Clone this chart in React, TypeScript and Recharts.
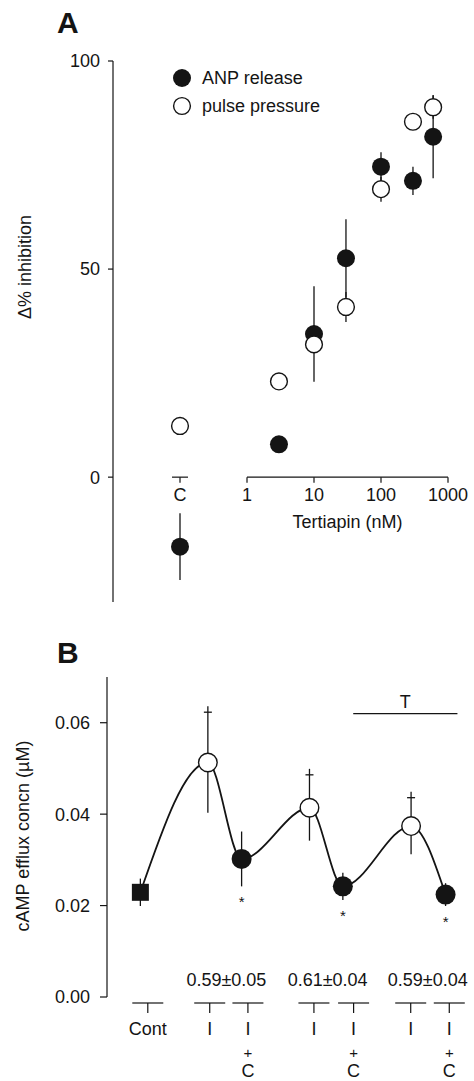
import { ScatterChart, ComposedChart, Scatter, Line, XAxis, YAxis, ErrorBar, ReferenceLine } from 'recharts'

const FONT = '"Liberation Sans", Arial, Helvetica, sans-serif'
const INK = '#141414'

// ---- Panel A: % inhibition vs tertiapin ----
const doseLabels = ['C', '3', '10', '30', '100', '300', '600']
// control "C" is drawn one decade left of 1 nM on the log axis
const doseValues = [0.1, 3, 10, 30, 100, 300, 600]
const anpMean = [-16.7, 7.9, 34.4, 52.6, 74.6, 71.2, 81.8]
const anpSem = [8, 0, 11.5, 9.4, 3.5, 3.4, 10]
const pulseMean = [12.3, 23, 31.9, 40.9, 69.2, 85.4, 88.9]
const pulseSem = [1.6, 0, 0, 3.6, 3, 0, 2.8]
const doseAxisTicks = [1, 10, 100, 1000]
const inhibitionTicks = [0, 50, 100]

// ---- Panel B: cAMP efflux ----
const conditionLabels = ['Cont', 'I', 'I+C', 'I', 'I+C', 'I', 'I+C']
const labelX = [1.2, 2.87, 3.9, 5.68, 6.75, 8.29, 9.33]
const pointX = [1, 2.82, 3.73, 5.56, 6.46, 8.3, 9.23]
const campMean = [0.0229, 0.0513, 0.0302, 0.0414, 0.0242, 0.0374, 0.0224]
const campSem = [0.003, 0.011, 0.006, 0.0072, 0.003, 0.0062, 0.0025]
const markerKind = ['square', 'open', 'filled', 'open', 'filled', 'open', 'filled']
const ratioText = ['0.59±0.05', '0.61±0.04', '0.59±0.04']
const ratioX = [3.32, 6.05, 8.75]
const campTicks = [0, 0.02, 0.04, 0.06]
const tertiapinSpan = [6.74, 9.55]

const anpData = doseValues.map((x, i) => ({ x, y: anpMean[i], err: anpSem[i], label: doseLabels[i] }))
const pulseData = doseValues.map((x, i) => ({ x, y: pulseMean[i], err: pulseSem[i], label: doseLabels[i] }))
const axisTextA = [
  ...doseAxisTicks.map((t) => ({ x: t, y: -4.3, text: String(t) })),
  { x: doseValues[0], y: -4.3, text: doseLabels[0] },
  { x: 31.6, y: -10.7, text: 'Tertiapin (nM)' },
]

const campData = pointX.map((x, i) => ({ x, y: campMean[i], err: campSem[i], kind: markerKind[i] }))
const plusData = campData.filter((d) => d.kind === 'open').map((d) => ({ x: d.x, y: d.y + d.err }))
const starData = campData.filter((d) => d.kind === 'filled').map((d) => ({ x: d.x, y: d.y - d.err }))
const ratioData = ratioX.map((x, i) => ({ x, y: 0.0037, text: ratioText[i] }))

const textStyle = { fontFamily: FONT, fontSize: 18, fill: INK }

function TextMark(p: any) {
  return (
    <text x={p.cx} y={p.cy} textAnchor="middle" dominantBaseline="central" {...textStyle}>
      {p.payload.text}
    </text>
  )
}

const filledDot = (p: any) => <circle cx={p.cx} cy={p.cy} r={9} fill={INK} />
const openDot = (p: any) => <circle cx={p.cx} cy={p.cy} r={8.4} fill="#fff" stroke={INK} strokeWidth={1.4} />

function CampMarker(p: any) {
  const { cx, cy, payload } = p
  if (payload.kind === 'square') return <rect x={cx - 8.5} y={cy - 8.5} width={17} height={17} fill={INK} />
  if (payload.kind === 'open') return <circle cx={cx} cy={cy} r={9.3} fill="#fff" stroke={INK} strokeWidth={1.4} />
  return <circle cx={cx} cy={cy} r={10} fill={INK} />
}

const PlusMark = (p: any) => (
  <g stroke={INK} strokeWidth={1.3}>
    <line x1={p.cx - 4} x2={p.cx + 4} y1={p.cy} y2={p.cy} />
    <line x1={p.cx} x2={p.cx} y1={p.cy} y2={p.cy - 6} />
  </g>
)

const StarMark = (p: any) => (
  <text x={p.cx} y={p.cy + 21} textAnchor="middle" fontFamily={FONT} fontSize={15} fill={INK}>
    *
  </text>
)

// bottom axis of B: a short bar with a drop tick per condition, label stacked below
function ConditionTick(p: any) {
  const { x, y, payload } = p
  const idx = labelX.findIndex((v) => Math.abs(v - payload.value) < 1e-6)
  const parts = (conditionLabels[idx] || '').split('+')
  return (
    <g>
      <line x1={x - 15.5} x2={x + 15.5} y1={y + 6} y2={y + 6} stroke={INK} strokeWidth={1.2} />
      <line x1={x} x2={x} y1={y + 6} y2={y + 16} stroke={INK} strokeWidth={1.2} />
      <text x={x} y={y + 38} textAnchor="middle" {...textStyle}>
        {parts[0]}
      </text>
      {parts.length > 1 && (
        <>
          <text x={x} y={y + 61} textAnchor="middle" {...textStyle} fontSize={15}>
            +
          </text>
          <text x={x} y={y + 80} textAnchor="middle" {...textStyle}>
            {parts[1]}
          </text>
        </>
      )}
    </g>
  )
}

const rotated = (left: number, top: number): React.CSSProperties => ({
  position: 'absolute',
  left,
  top,
  transform: 'translate(-50%, -50%) rotate(-90deg)',
  whiteSpace: 'nowrap',
  fontFamily: FONT,
  fontSize: 18,
  color: INK,
})

const panelLetter = (top: number): React.CSSProperties => ({
  position: 'absolute',
  left: 57,
  top,
  fontFamily: FONT,
  fontWeight: 'bold',
  fontSize: 30,
  lineHeight: '30px',
  color: INK,
})

export default function App() {
  return (
    <div style={{ position: 'absolute', left: 0, top: 0, width: 474, height: 1081, background: '#fff' }}>
      {/* Panel A */}
      <div style={{ position: 'absolute', left: 0, top: 0 }}>
        <ScatterChart width={474} height={620} margin={{ top: 61, right: 26, bottom: 18, left: 63 }}>
          <XAxis type="number" dataKey="x" scale="log" domain={[0.01, 1000]} hide />
          <YAxis
            type="number"
            dataKey="y"
            domain={[-30, 100]}
            ticks={inhibitionTicks}
            width={50}
            tickSize={5}
            tickMargin={8}
            axisLine={{ stroke: INK, strokeWidth: 1.2 }}
            tickLine={{ stroke: INK, strokeWidth: 1.2 }}
            tick={textStyle}
          />
          <ReferenceLine segment={[{ x: 1, y: 0 }, { x: 1000, y: 0 }]} stroke={INK} strokeWidth={1.2} />
          {doseAxisTicks.map((t) => (
            <ReferenceLine key={t} segment={[{ x: t, y: 0 }, { x: t, y: -1.35 }]} stroke={INK} strokeWidth={1.2} />
          ))}
          <ReferenceLine segment={[{ x: 0.076, y: 0 }, { x: 0.1316, y: 0 }]} stroke={INK} strokeWidth={1.2} />
          <ReferenceLine segment={[{ x: 0.1, y: 0 }, { x: 0.1, y: -1.35 }]} stroke={INK} strokeWidth={1.2} />
          <Scatter data={axisTextA} shape={TextMark} isAnimationActive={false} />
          <Scatter data={anpData} shape={filledDot} isAnimationActive={false}>
            <ErrorBar dataKey="err" direction="y" width={0} stroke={INK} strokeWidth={1.3} />
          </Scatter>
          <Scatter data={pulseData} shape={openDot} isAnimationActive={false}>
            <ErrorBar dataKey="err" direction="y" width={0} stroke={INK} strokeWidth={1.3} />
          </Scatter>
        </ScatterChart>
      </div>

      <div style={panelLetter(8)}>A</div>
      <div style={rotated(25, 267)}>Δ% inhibition</div>

      {/* legend A */}
      <div style={{ position: 'absolute', left: 172, top: 66, fontFamily: FONT, fontSize: 18, color: INK }}>
        <div style={{ display: 'flex', alignItems: 'center', height: 24, marginBottom: 4 }}>
          <svg width={20} height={20}>
            <circle cx={10} cy={10} r={9} fill={INK} />
          </svg>
          <span style={{ marginLeft: 10 }}>ANP release</span>
        </div>
        <div style={{ display: 'flex', alignItems: 'center', height: 24 }}>
          <svg width={20} height={20}>
            <circle cx={10} cy={10} r={8.4} fill="#fff" stroke={INK} strokeWidth={1.4} />
          </svg>
          <span style={{ marginLeft: 10 }}>pulse pressure</span>
        </div>
      </div>

      {/* Panel B */}
      <div style={{ position: 'absolute', left: 0, top: 620 }}>
        <ComposedChart width={474} height={461} margin={{ top: 57, right: 11, bottom: 0, left: 57 }}>
          <XAxis
            type="number"
            dataKey="x"
            domain={[0.1, 9.7]}
            ticks={labelX}
            interval={0}
            height={84}
            axisLine={false}
            tickLine={false}
            tickSize={0}
            tickMargin={0}
            tick={<ConditionTick />}
          />
          <YAxis
            type="number"
            dataKey="y"
            domain={[0, 0.07]}
            ticks={campTicks}
            width={50}
            tickSize={7}
            tickMargin={10}
            tickFormatter={(v: number) => v.toFixed(2)}
            axisLine={{ stroke: INK, strokeWidth: 1.2 }}
            tickLine={{ stroke: INK, strokeWidth: 1.2 }}
            tick={textStyle}
          />
          <ReferenceLine
            segment={[{ x: tertiapinSpan[0], y: 0.062 }, { x: tertiapinSpan[1], y: 0.062 }]}
            stroke={INK}
            strokeWidth={1.2}
            label={{ value: 'T', position: 'top', offset: 6, ...textStyle }}
          />
          <Line
            data={campData}
            dataKey="y"
            type="monotone"
            stroke={INK}
            strokeWidth={1.8}
            dot={false}
            activeDot={false}
            isAnimationActive={false}
          />
          <Scatter data={campData} shape={CampMarker} isAnimationActive={false}>
            <ErrorBar dataKey="err" direction="y" width={0} stroke={INK} strokeWidth={1.3} />
          </Scatter>
          <Scatter data={plusData} shape={PlusMark} isAnimationActive={false} />
          <Scatter data={starData} shape={StarMark} isAnimationActive={false} />
          <Scatter data={ratioData} shape={TextMark} isAnimationActive={false} />
        </ComposedChart>
      </div>

      <div style={panelLetter(638)}>B</div>
      <div style={rotated(23, 836)}>cAMP efflux concn (µM)</div>
    </div>
  )
}
